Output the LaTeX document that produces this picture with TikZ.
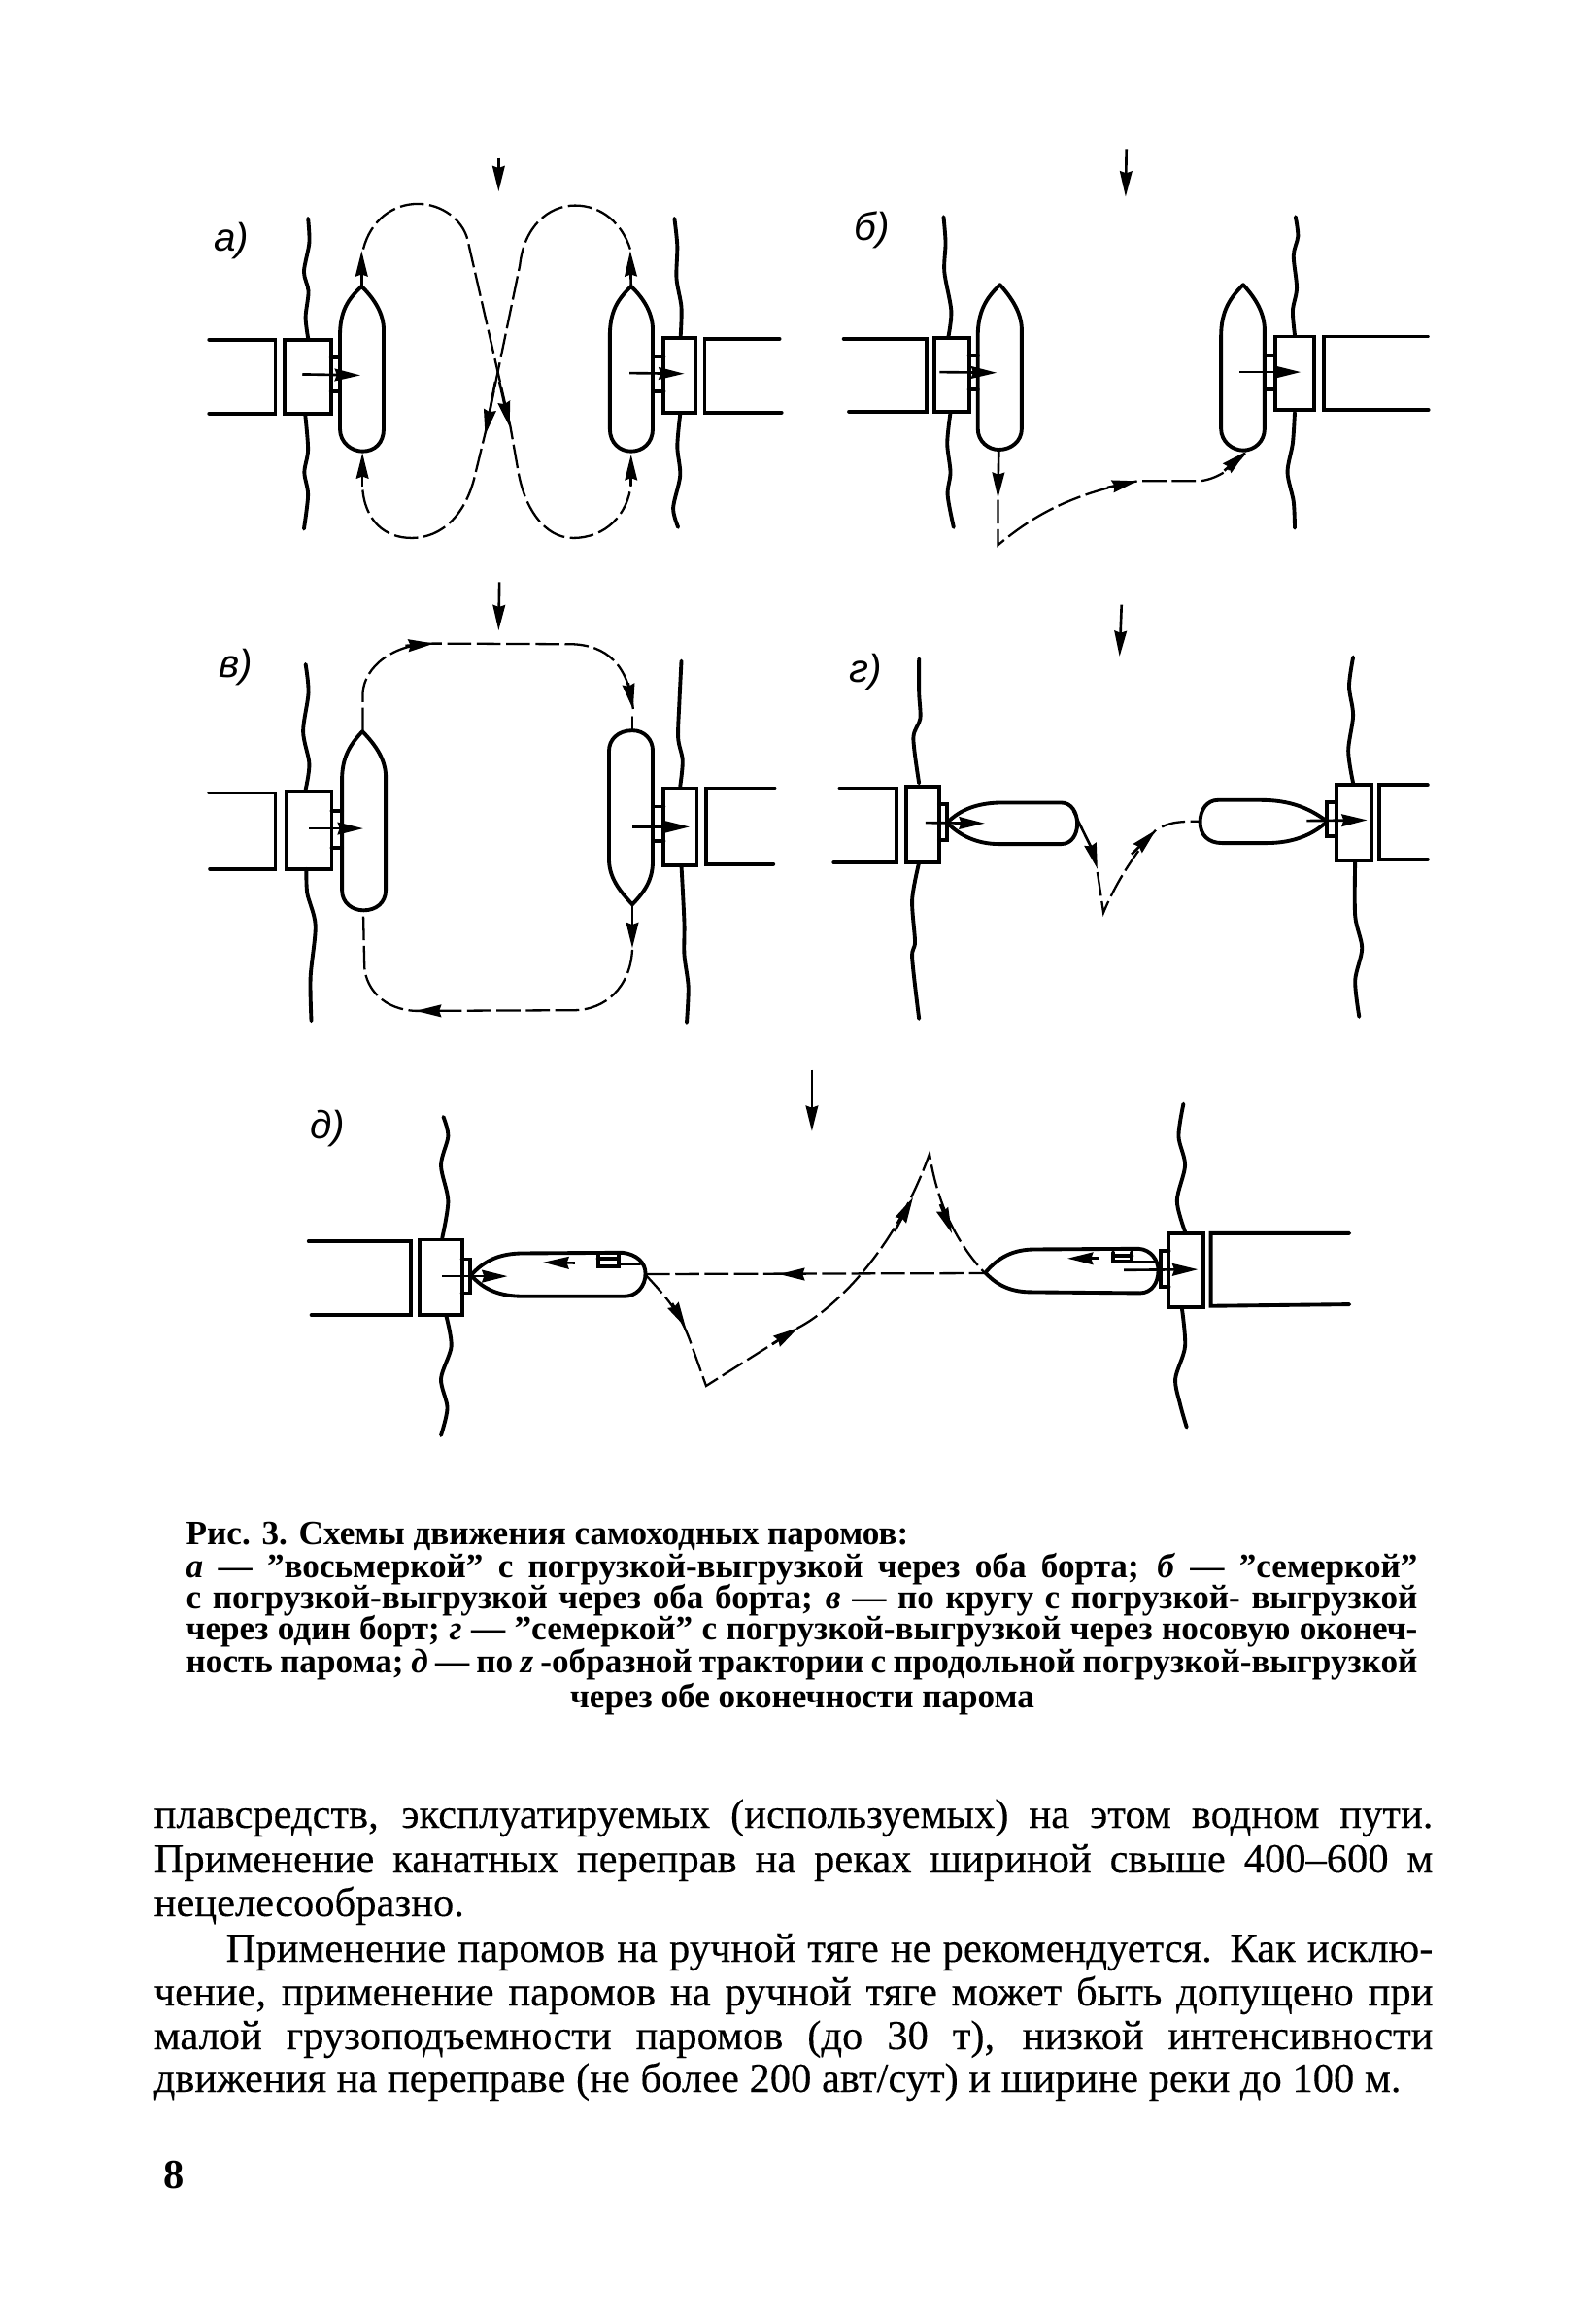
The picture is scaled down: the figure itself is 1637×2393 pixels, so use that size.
\documentclass[tikz,border=0pt]{standalone}
\usepackage{fontspec}
\setmainfont{Liberation Serif}
\setsansfont{Liberation Sans}
\usetikzlibrary{arrows.meta}

\tikzset{
    wall/.style={line width=1.1pt, line cap=round},
    river/.style={line width=1.1pt, line cap=round},
    hull/.style={line width=1.1pt, line join=round},
    route/.style={line width=0.65pt, dash pattern=on 7pt off 1.6pt},
    flow/.style={line width=0.75pt, -{Stealth[length=7.5pt,width=3.6pt,inset=0.6pt]}},
    panellabel/.style={inner sep=0pt, font=\sffamily\itshape\fontsize{11.5}{14}\selectfont},
    capline/.style={anchor=base west, inner sep=0pt, font=\bfseries\fontsize{10}{11}\selectfont},
    bodyline/.style={anchor=base west, inner sep=0pt, font=\fontsize{12.1}{13}\selectfont\addfontfeature{FakeBold=0.25}},
}

\begin{document}
\begin{tikzpicture}[x=0.01cm, y=-0.01cm]
    \useasboundingbox (0,0) rectangle (1637,2393);

    % panel a
    \begin{scope}[shift={(190,140)}, xscale=0.421, yscale=0.333]
        \node[panellabel] (labela) at (115,325) {а)};
        \draw[flow] (768,68) -- (768,172);
        %rivers
        \draw[river] plot[smooth] coordinates {(302,255) (305,330) (292,420) (303,480) (296,560) (302,625)};
        \draw[river] plot[smooth] coordinates {(295,860) (302,970) (293,1040) (302,1110) (292,1215)};
        \draw[river] plot[smooth] coordinates {(1198,255) (1205,340) (1203,440) (1215,530) (1213,620)};
        \draw[river] plot[smooth] coordinates {(1212,860) (1205,960) (1212,1050) (1195,1150) (1207,1210)};
        %quays and pontoons
        \draw[wall] (60,630) -- (222,630) -- (222,858) -- (60,858);
        \draw[wall] (245,630) rectangle (358,858);
        \draw[wall] (1455,627) -- (1272,627) -- (1272,855) -- (1460,855);
        \draw[wall] (1172,625) rectangle (1250,855);
        %ramps
        \draw[wall] (358,685) -- (380,685);
        \draw[wall] (358,790) -- (380,790);
        \draw[wall] (1150,683) -- (1172,683);
        \draw[wall] (1150,790) -- (1172,790);
        %hulls
        \draw[hull] (433,465) .. controls (400,505) and (380,540) .. (380,620) -- (380,905) .. controls (380,950) and (410,975) .. (435,975) .. controls (465,975) and (487,950) .. (487,905) -- (487,600) .. controls (487,550) and (465,505) .. (433,465) -- cycle;
        \draw[hull] (1092,465) .. controls (1060,505) and (1040,540) .. (1040,620) -- (1040,905) .. controls (1040,950) and (1065,975) .. (1092,975) .. controls (1120,975) and (1145,950) .. (1145,905) -- (1145,600) .. controls (1145,550) and (1125,505) .. (1092,465) -- cycle;
        %load arrows
        \draw[flow] (288,737) -- (430,740);
        \draw[flow] (1088,733) -- (1222,735);
        %routes
        \draw[route] (437,350) .. controls (455,260) and (510,210) .. (570,210) .. controls (630,210) and (680,260) .. (692,320) -- (797,900) -- (815,1030) .. controls (830,1150) and (880,1243) .. (950,1243) .. controls (1030,1243) and (1085,1170) .. (1092,1075);
        \draw[route] (1090,350) .. controls (1070,270) and (1020,215) .. (955,215) .. controls (890,215) and (830,280) .. (820,400) -- (735,920) -- (712,1040) .. controls (690,1170) and (630,1243) .. (555,1243) .. controls (490,1243) and (440,1190) .. (435,1085);
        \draw[flow] (433,465) -- (433,355);
        \draw[flow] (1092,465) -- (1090,355);
        \draw[flow] (770,760) -- (795,900);
        \draw[flow] (760,760) -- (735,925);
        \draw[flow] (435,1085) -- (435,980);
        \draw[flow] (1092,1080) -- (1092,985);
    \end{scope}

    % panel b
    \begin{scope}[shift={(850,140)}, xscale=0.4146, yscale=0.333]
        \node[panellabel] (labelb) at (115,290) {б)};
        \draw[flow] (747,40) -- (745,188);
        %rivers
        \draw[river] plot[smooth] coordinates {(293,250) (298,330) (295,420) (312,540) (305,620)};
        \draw[river] plot[smooth] coordinates {(310,855) (302,950) (310,1040) (303,1110) (318,1210)};
        \draw[river] plot[smooth] coordinates {(1167,250) (1173,310) (1162,370) (1170,470) (1160,540) (1165,615)};
        \draw[river] plot[smooth] coordinates {(1165,855) (1160,950) (1147,1040) (1162,1130) (1165,1212)};
        %quays and pontoons
        \draw[wall] (45,627) -- (250,627) -- (250,852) -- (58,852);
        \draw[wall] (270,625) rectangle (356,852);
        \draw[wall] (1495,620) -- (1238,620) -- (1238,847) -- (1497,847);
        \draw[wall] (1116,620) rectangle (1213,848);
        %ramps
        \draw[wall] (356,680) -- (378,680);
        \draw[wall] (356,785) -- (378,785);
        \draw[wall] (1092,680) -- (1116,680);
        \draw[wall] (1092,785) -- (1116,785);
        %hulls
        \draw[hull] (433,460) .. controls (400,500) and (378,540) .. (378,620) -- (378,905) .. controls (378,945) and (405,970) .. (430,970) .. controls (460,970) and (487,945) .. (487,905) -- (487,600) .. controls (487,550) and (465,505) .. (433,460) -- cycle;
        \draw[hull] (1037,460) .. controls (1005,500) and (982,540) .. (982,620) -- (982,905) .. controls (982,945) and (1010,972) .. (1037,972) .. controls (1065,972) and (1090,945) .. (1090,905) -- (1090,600) .. controls (1090,550) and (1070,505) .. (1037,460) -- cycle;
        %load arrows
        \draw[flow] (283,730) -- (425,732);
        \draw[flow] (1028,730) -- (1180,730);
        %routes
        \draw[flow] (430,975) -- (428,1120);
        \draw[route] (428,1125) -- (428,1265) .. controls (510,1180) and (600,1110) .. (775,1067) -- (930,1067) .. controls (975,1060) and (1015,1025) .. (1045,975);
        \draw[flow] (700,1087) -- (775,1067);
        \draw[flow] (990,1035) -- (1045,975);
    \end{scope}

    % panel v
    \begin{scope}[shift={(190,590)}, xscale=0.421, yscale=0.333]
        \node[panellabel] (labelv) at (125,290) {в)};
        \draw[flow] (770,28) -- (768,178);
        %rivers
        \draw[river] plot[smooth] coordinates {(296,282) (303,370) (290,490) (305,590) (296,670)};
        \draw[river] plot[smooth] coordinates {(298,915) (300,990) (320,1090) (308,1250) (310,1385)};
        \draw[river] plot[smooth] coordinates {(1215,272) (1210,400) (1207,510) (1218,580) (1212,660)};
        \draw[river] plot[smooth] coordinates {(1215,905) (1222,1080) (1222,1180) (1232,1280) (1228,1390)};
        %quays and pontoons
        \draw[wall] (60,680) -- (222,680) -- (222,915) -- (62,915);
        \draw[wall] (250,675) rectangle (360,915);
        \draw[wall] (1443,665) -- (1275,665) -- (1275,900) -- (1440,900);
        \draw[wall] (1172,665) rectangle (1253,905);
        %ramps
        \draw[wall] (360,735) -- (385,735);
        \draw[wall] (360,850) -- (385,850);
        \draw[wall] (1148,722) -- (1172,722);
        \draw[wall] (1148,830) -- (1172,830);
        %hulls
        \draw[hull] (435,490) .. controls (405,530) and (385,570) .. (385,640) -- (385,980) .. controls (385,1020) and (410,1043) .. (438,1043) .. controls (468,1043) and (492,1020) .. (492,980) -- (492,630) .. controls (492,580) and (470,535) .. (435,490) -- cycle;
        \draw[hull] (1095,487) .. controls (1060,487) and (1038,515) .. (1038,550) -- (1038,890) .. controls (1040,950) and (1070,990) .. (1095,1025) .. controls (1125,985) and (1145,950) .. (1145,890) -- (1145,550) .. controls (1145,515) and (1125,487) .. (1095,487) -- cycle;
        %load arrows
        \draw[flow] (305,790) -- (437,790);
        \draw[flow] (1095,785) -- (1235,785);
        %routes
        \draw[route] (436,490) -- (436,370) .. controls (440,290) and (510,218) .. (610,218) -- (950,220) .. controls (1030,225) and (1085,280) .. (1097,420);
        \draw[wall, line width=0.65pt] (1095,445) -- (1095,487);
        \draw[flow] (540,225) -- (610,218);
        \draw[flow] (1085,340) -- (1097,422);
        \draw[flow] (1095,1025) -- (1095,1160);
        \draw[route] (1095,1165) .. controls (1090,1280) and (1030,1352) .. (950,1352) -- (565,1354) .. controls (490,1350) and (445,1290) .. (440,1220) -- (437,1050);
        \draw[flow] (660,1354) -- (565,1354);
    \end{scope}

    % panel g
    \begin{scope}[shift={(850,610)}, xscale=0.4146, yscale=0.333]
        \node[panellabel] (labelg) at (100,245) {г)};
        \draw[flow] (735,38) -- (730,198);
        %rivers
        \draw[river] plot[smooth] coordinates {(232,205) (232,310) (235,390) (218,450) (232,590)};
        \draw[river] plot[smooth] coordinates {(232,835) (215,950) (222,1080) (215,1130) (232,1318)};
        \draw[river] plot[smooth] coordinates {(1310,200) (1300,290) (1310,380) (1298,490) (1310,590)};
        \draw[river] plot[smooth] coordinates {(1315,830) (1315,1000) (1332,1100) (1315,1200) (1325,1312)};
        %quays and pontoons
        \draw[wall] (35,605) -- (177,605) -- (177,835) -- (20,835);
        \draw[wall] (200,600) rectangle (282,835);
        \draw[wall] (1495,595) -- (1375,595) -- (1375,825) -- (1495,825);
        \draw[wall] (1268,595) rectangle (1355,828);
        %ramps
        \draw[wall] (282,655) -- (302,655) -- (302,765) -- (282,765);
        \draw[wall] (1268,648) -- (1245,648) -- (1245,755) -- (1268,755);
        %hulls
        \draw[hull] (302,712) .. controls (335,670) and (380,650) .. (440,650) -- (585,650) .. controls (610,650) and (625,680) .. (625,715) .. controls (625,750) and (610,778) .. (585,778) -- (430,778) .. controls (380,778) and (335,755) .. (302,712) -- cycle;
        \draw[hull] (1245,708) .. controls (1200,665) and (1150,642) .. (1080,642) -- (975,642) .. controls (945,642) and (930,675) .. (930,710) .. controls (930,750) and (950,775) .. (985,775) -- (1095,775) .. controls (1160,775) and (1210,750) .. (1245,708) -- cycle;
        %load arrows
        \draw[flow] (248,712) -- (395,714);
        \draw[flow] (1195,706) -- (1345,704);
        %routes
        \draw[flow] (615,675) .. controls (640,740) and (660,790) .. (675,855);
        \draw[route] (675,865) -- (690,990) .. controls (720,900) and (770,800) .. (820,735);
        \draw[flow] (760,810) -- (820,735);
        \draw[route] (835,725) .. controls (860,710) and (880,708) .. (930,708);
    \end{scope}

    % panel d, left part
    \begin{scope}[shift={(290,1090)}, xscale=0.408, yscale=0.333]
        \node[panellabel] (labeld) at (115,215) {д)};
        \draw[flow] (1338,35) -- (1338,225);
        %river
        \draw[river] plot[smooth] coordinates {(408,180) (420,240) (402,330) (420,440) (405,555)};
        \draw[river] plot[smooth] coordinates {(415,795) (428,890) (402,990) (418,1080) (402,1165)};
        %quay and pontoon
        \draw[wall] (68,565) -- (325,565) -- (325,793) -- (75,793);
        \draw[wall] (347,560) rectangle (455,793);
        \draw[wall] (455,620) -- (475,620) -- (475,725) -- (455,725);
        %hull
        \draw[hull] (478,670) .. controls (510,625) and (550,602) .. (610,602) -- (860,600) .. controls (895,605) and (918,630) .. (918,665) .. controls (918,705) and (895,735) .. (865,735) -- (610,735) .. controls (550,735) and (510,715) .. (478,670) -- cycle;
        %deck
        \draw[wall] (798,605) -- (798,643) -- (850,643) -- (850,602);
        \draw[wall] (798,618) -- (850,618);
        \draw[wall, line width=0.7pt] (850,635) -- (905,635);
        %arrows
        \draw[flow] (740,632) -- (660,630);
        \draw[flow] (405,673) -- (570,673);
    \end{scope}

    % panel d, right part
    \begin{scope}[shift={(900,1090)}, xscale=0.3317, yscale=0.333]
        %river
        \draw[river] plot[smooth] coordinates {(960,140) (945,240) (965,330) (940,440) (965,535)};
        \draw[river] plot[smooth] coordinates {(955,770) (965,890) (935,990) (950,1070) (970,1140)};
        %quay and pontoon
        \draw[wall] (1475,540) -- (1045,540) -- (1045,765) -- (1475,760);
        \draw[wall] (915,540) rectangle (1022,768);
        \draw[wall] (915,595) -- (890,595) -- (890,705) -- (915,705);
        %hull
        \draw[hull] (345,662) .. controls (385,615) and (430,590) .. (500,590) -- (820,588) .. controls (860,590) and (882,625) .. (882,655) .. controls (882,695) and (860,725) .. (825,725) -- (490,722) .. controls (430,722) and (385,705) .. (345,662) -- cycle;
        %deck
        \draw[wall] (742,600) -- (742,628) -- (800,628) -- (800,600);
        \draw[wall] (742,610) -- (800,610);
        \draw[wall, line width=0.7pt] (800,628) -- (875,628);
        %arrows
        \draw[flow] (700,618) -- (600,618);
        \draw[flow] (775,654) -- (1005,652);
    \end{scope}

    %route of panel d
    \draw[route] (665,1312) -- (1014,1311);
    \draw[route] (665,1313) .. controls (685,1335) and (700,1350) .. (712,1385) -- (727,1427) -- (822,1367) .. controls (855,1350) and (920,1292) .. (957,1188) .. controls (965,1240) and (985,1280) .. (1014,1311);
    \draw[flow] (830,1312) -- (802,1312);
    \draw[flow] (692,1342) -- (706,1367);
    \draw[flow] (795,1384) -- (822,1367);
    \draw[flow] (921,1268) -- (940,1233);
    \draw[flow] (968,1240) -- (980,1270);

    %caption
    \node[capline] (cap1) at (191,1590) {Рис. 3. Схемы движения самоходных паромов:};
    \node[capline] (cap2) at (191,1624) {\makebox[12.67cm][s]{\textit{а} — ”восьмеркой” с погрузкой-выгрузкой через оба борта; \textit{б} — ”семеркой”}};
    \node[capline] (cap3) at (191,1656) {\makebox[12.67cm][s]{с погрузкой-выгрузкой через оба борта; \textit{в} — по кругу с погрузкой- выгрузкой}};
    \node[capline] (cap4) at (191,1688) {\makebox[12.67cm][s]{через один борт; \textit{г} — ”семеркой” с погрузкой-выгрузкой через носовую оконеч-}};
    \node[capline] (cap5) at (191,1722) {\makebox[12.67cm][s]{ность парома; \textit{д} — по \textit{z} -образной трактории с продольной погрузкой-выгрузкой}};
    \node[capline, anchor=base] (cap6) at (826,1758) {через обе оконечности парома};

    %body text
    \node[bodyline] (body1) at (158,1882) {\makebox[13.16cm][s]{плавсредств, эксплуатируемых (используемых) на этом водном пути.}};
    \node[bodyline] (body2) at (158,1928) {\makebox[13.16cm][s]{Применение канатных переправ на реках шириной свыше 400–600 м}};
    \node[bodyline] (body3) at (158,1973) {нецелесообразно.};
    \node[bodyline] (body4) at (232,2020) {\makebox[12.42cm][s]{Применение паромов на ручной тяге не рекомендуется. Как исклю-}};
    \node[bodyline] (body5) at (158,2065) {\makebox[13.16cm][s]{чение, применение паромов на ручной тяге может быть допущено при}};
    \node[bodyline] (body6) at (158,2110) {\makebox[13.16cm][s]{малой грузоподъемности паромов (до 30 т), низкой интенсивности}};
    \node[bodyline] (body7) at (158,2154) {движения на переправе (не более 200 авт/сут) и ширине реки до 100 м.};
    \node[bodyline, font=\bfseries\fontsize{12.1}{13}\selectfont] (pagenum) at (168,2253) {8};
\end{tikzpicture}
\end{document}
